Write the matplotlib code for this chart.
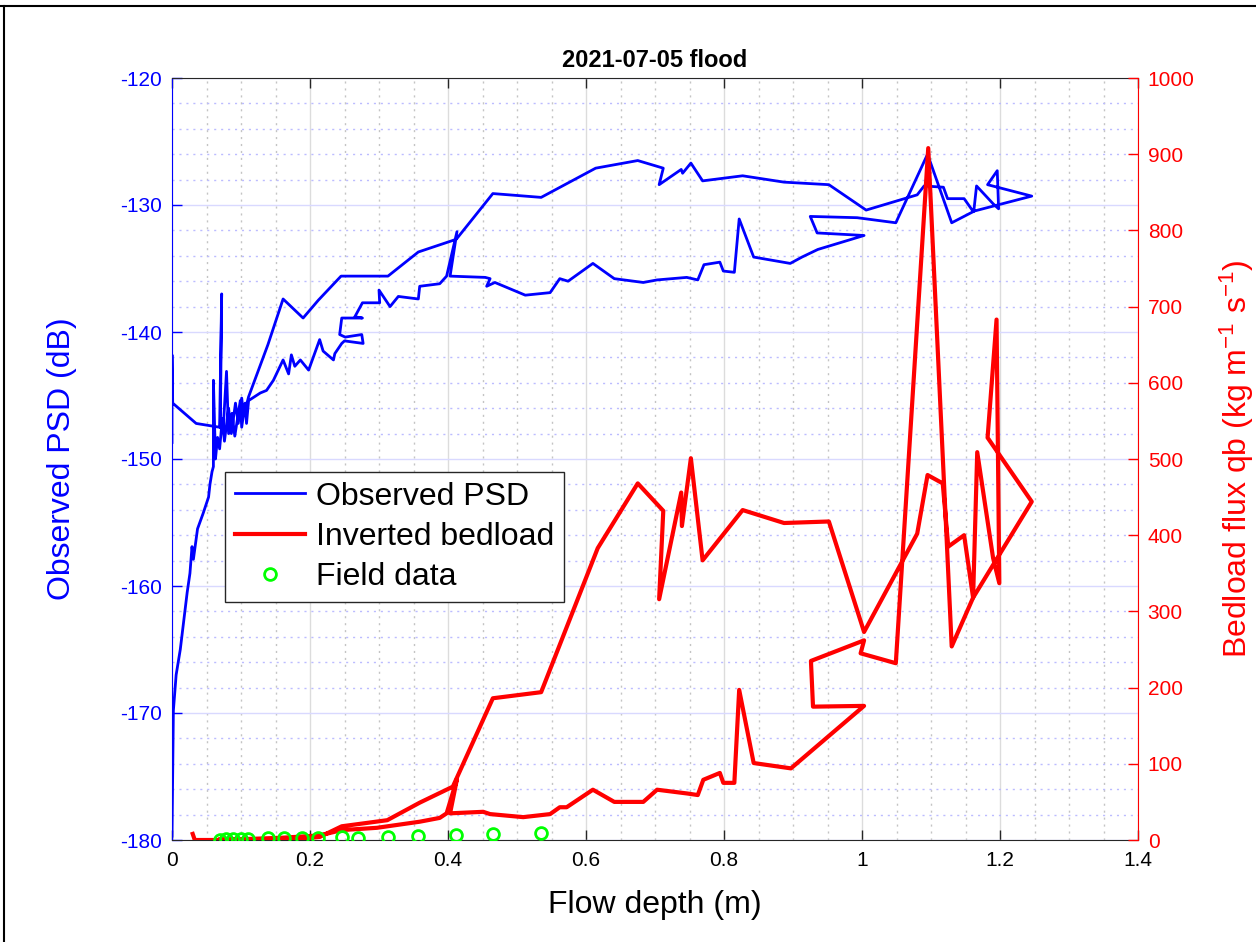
import matplotlib
matplotlib.use("Agg")
import matplotlib.pyplot as plt
from matplotlib.ticker import MultipleLocator
from matplotlib.lines import Line2D

plt.rcParams['font.family'] = ['Liberation Sans', 'DejaVu Sans']
plt.rcParams['mathtext.fontset'] = 'custom'
plt.rcParams['mathtext.rm'] = 'Liberation Sans'
plt.rcParams['mathtext.it'] = 'Liberation Sans:italic'
plt.rcParams['mathtext.bf'] = 'Liberation Sans:bold'
plt.rcParams['axes.unicode_minus'] = False

# Observed PSD (dB) vs flow depth (m), in time order
depth_psd = [0.000, 0.001, 0.002, 0.006, 0.012, 0.016, 0.022, 0.026, 0.029, 0.031,
             0.037, 0.045, 0.053, 0.055, 0.058, 0.060, 0.060, 0.063, 0.066, 0.069,
             0.073, 0.076, 0.082, 0.086, 0.092, 0.096, 0.101, 0.104, 0.111, 0.139,
             0.161, 0.190, 0.212, 0.245, 0.270, 0.313, 0.357, 0.412, 0.465, 0.535,
             0.614, 0.675, 0.712, 0.706, 0.738, 0.740, 0.752, 0.769, 0.827, 0.887,
             0.952, 1.006, 1.080, 1.090, 1.118, 1.124, 1.148, 1.161, 1.246, 1.182,
             1.196, 1.198, 1.190, 1.166, 1.162, 1.130, 1.095, 1.049, 0.993, 0.925,
             0.935, 1.003, 0.936, 0.913, 0.896, 0.843, 0.822, 0.815, 0.799, 0.794,
             0.771, 0.762, 0.746, 0.703, 0.683, 0.641, 0.610, 0.574, 0.562, 0.548,
             0.512, 0.468, 0.456, 0.461, 0.454, 0.403, 0.413, 0.398, 0.388, 0.359,
             0.357, 0.328, 0.316, 0.300, 0.301, 0.276, 0.265, 0.276, 0.246, 0.243,
             0.251, 0.275, 0.277, 0.250, 0.246, 0.236, 0.234, 0.219, 0.214, 0.210,
             0.198, 0.186, 0.178, 0.173, 0.169, 0.161, 0.147, 0.137, 0.128, 0.111,
             0.108, 0.106, 0.101, 0.099, 0.091, 0.087, 0.082, 0.079, 0.074, 0.070,
             0.072, 0.069, 0.035, 0.001, 0.000, 0.000]
psd = [-179.7, -175.0, -169.8, -167.0, -165.0, -163.2, -160.5, -159.0, -156.9, -157.9,
       -155.5, -154.3, -153.0, -152.0, -151.0, -150.6, -143.8, -150.0, -148.3, -149.2,
       -146.8, -148.6, -146.0, -148.0, -145.6, -147.2, -145.2, -146.6, -145.1, -141.0,
       -137.4, -138.9, -137.5, -135.6, -135.6, -135.6, -133.7, -132.7, -129.1, -129.4,
       -127.1, -126.5, -127.1, -128.4, -127.2, -127.5, -126.7, -128.1, -127.7, -128.2,
       -128.4, -130.4, -129.2, -128.5, -128.6, -129.5, -129.5, -130.5, -129.3, -128.4,
       -127.3, -130.3, -129.9, -128.5, -130.5, -131.4, -126.0, -131.4, -131.0, -130.9,
       -132.2, -132.4, -133.5, -134.1, -134.6, -134.1, -131.1, -135.3, -135.2, -134.5,
       -134.7, -135.9, -135.7, -135.9, -136.1, -135.8, -134.6, -136.0, -135.8, -136.9,
       -137.1, -136.1, -136.4, -135.8, -135.7, -135.6, -132.1, -135.6, -136.2, -136.4,
       -137.4, -137.2, -138.0, -136.7, -137.7, -137.7, -138.8, -138.9, -138.9, -140.2,
       -140.4, -140.2, -140.9, -140.7, -140.9, -141.7, -142.2, -141.5, -140.6, -141.2,
       -143.0, -142.2, -142.7, -141.8, -143.3, -142.2, -143.8, -144.6, -144.8, -145.4,
       -147.2, -145.6, -147.5, -145.4, -148.2, -146.4, -148.0, -143.1, -147.8, -147.5,
       -137.0, -147.5, -147.2, -145.6, -141.8, -148.7]

# Inverted bedload flux (kg m-1 s-1) vs flow depth (m), in time order
depth_qb = [0.030, 0.033, 0.080, 0.140, 0.190, 0.214, 0.246, 0.312, 0.359, 0.407,
            0.465, 0.535, 0.617, 0.675, 0.712, 0.706, 0.738, 0.739, 0.752, 0.769,
            0.827, 0.887, 0.952, 1.003, 1.080, 1.095, 1.117, 1.125, 1.148, 1.161,
            1.246, 1.182, 1.195, 1.199, 1.190, 1.167, 1.161, 1.130, 1.096, 1.049,
            0.998, 1.003, 0.926, 0.929, 1.003, 0.897, 0.843, 0.822, 0.815, 0.799,
            0.794, 0.770, 0.762, 0.747, 0.703, 0.683, 0.641, 0.610, 0.572, 0.562,
            0.548, 0.509, 0.461, 0.451, 0.403, 0.413, 0.398, 0.388, 0.359, 0.297,
            0.246, 0.214, 0.160, 0.100, 0.070]
qb = [8, 0, 0, 1, 2, 4, 18, 26, 49, 70,
      186, 194, 383, 468, 432, 316, 456, 412, 501, 367,
      433, 416, 418, 273, 402, 479, 468, 385, 400, 318,
      444, 528, 683, 337, 370, 509, 318, 254, 908, 232,
      245, 262, 235, 175, 176, 94, 101, 197, 75, 75,
      88, 79, 59, 61, 66, 50, 50, 66, 43, 43,
      34, 30, 34, 37, 35, 80, 35, 29, 24, 16,
      13, 6, 3, 1, 1]

# Field measurements
field_depth = [0.070, 0.078, 0.088, 0.100, 0.110, 0.139, 0.162, 0.188, 0.212, 0.246,
               0.270, 0.313, 0.357, 0.412, 0.465, 0.535]
field_qb = [0.5, 0.8, 1.0, 1.3, 1.5, 2.2, 2.6, 3.0, 3.2, 3.6,
            3.1, 4.4, 5.2, 6.1, 7.9, 9.6]

x_ticks = [0, 0.2, 0.4, 0.6, 0.8, 1.0, 1.2, 1.4]
x_ticklabels = ['0', '0.2', '0.4', '0.6', '0.8', '1', '1.2', '1.4']

axc = '#262626'
fig = plt.figure(figsize=(12.56, 9.42), dpi=100)
ax1 = fig.add_axes([172 / 1256, 1 - 840 / 942, 966 / 1256, 762 / 942])
ax2 = ax1.twinx()

l1, = ax1.plot(depth_psd, psd, color='#0000ff', lw=2.0, label='Observed PSD')
l2, = ax2.plot(depth_qb, qb, color='#ff0000', lw=3.0, label='Inverted bedload')
l3, = ax2.plot(field_depth, field_qb, 'o', mfc='none', mec='#00ff00', ms=8.5, mew=2,
               label='Field data')

ax1.set_xticks(x_ticks)
ax1.set_xticklabels(x_ticklabels)
ax1.xaxis.set_minor_locator(MultipleLocator(0.05))
ax1.set_xlim(0, 1.4)
ax1.set_ylim(-180, -120)
ax2.set_ylim(0, 1000)
ax1.yaxis.set_major_locator(MultipleLocator(10))
ax1.yaxis.set_minor_locator(MultipleLocator(2))
ax2.yaxis.set_major_locator(MultipleLocator(100))

# grid like MATLAB
ax1.set_axisbelow(True)
ax1.grid(which='major', axis='x', color='#dcdcdc', lw=1.0, ls='-')
ax1.grid(which='major', axis='y', color='#d9d9ff', lw=1.0, ls='-')
ax1.grid(which='minor', axis='x', color='#c4c4c4', lw=1.0, ls=(0, (1.5, 3.5)))
ax1.grid(which='minor', axis='y', color='#bcbcff', lw=1.0, ls=(0, (1.5, 3.5)))

ax1.tick_params(which='minor', length=0)
ax1.tick_params(axis='x', which='major', direction='in', top=True, length=7,
                width=1, color=axc, labelsize=15, labelcolor='black', pad=8)
ax1.tick_params(axis='y', which='major', direction='in', length=7, width=1,
                color='#0000ff', labelcolor='#0000ff', labelsize=15, pad=7)
ax2.tick_params(axis='y', which='major', direction='in', length=7, width=1,
                color='#ff0000', labelcolor='#ff0000', labelsize=15, pad=7)

for s in ['top', 'bottom']:
    ax1.spines[s].set_color(axc)
ax1.spines['left'].set_color('#0000ff')
ax1.spines['right'].set_visible(False)
for s in ['top', 'bottom', 'left']:
    ax2.spines[s].set_visible(False)
ax2.spines['right'].set_color('#ff0000')

ax1.set_xlabel('Flow depth (m)', fontsize=23)
ax1.xaxis.set_label_coords(0.5, -0.0853)
ax1.xaxis.label.set_verticalalignment('center')
ax1.set_ylabel('Observed PSD (dB)', fontsize=23, color='#0000ff')
ax1.yaxis.set_label_coords(-0.114, 0.5)
ax1.yaxis.label.set_verticalalignment('center')
ax2.set_ylabel('Bedload flux qb (kg m$^{-1}$ s$^{-1}$)', fontsize=23, color='#ff0000')
ax2.yaxis.set_label_coords(1.1025, 0.5)
ax2.yaxis.label.set_verticalalignment('center')

ax1.set_title('2021-07-05 flood', fontsize=17, fontweight='bold', pad=8)

leg = ax2.legend(handles=[l1, l2, l3], loc='upper left', bbox_to_anchor=(0.0549, 0.483),
                 borderaxespad=0, fontsize=23, fancybox=False, framealpha=1,
                 edgecolor=axc, borderpad=0.3, labelspacing=0.32, handlelength=2.2,
                 handletextpad=0.35, numpoints=1)
leg.get_frame().set_linewidth(1.0)

# screenshot frame edges
fig.add_artist(Line2D([0, 1], [1 - 6 / 942] * 2, transform=fig.transFigure, color='k', lw=1.5))
fig.add_artist(Line2D([4 / 1256] * 2, [0, 1 - 6 / 942], transform=fig.transFigure, color='k', lw=1.5))

fig.savefig('out.png', dpi=100)
